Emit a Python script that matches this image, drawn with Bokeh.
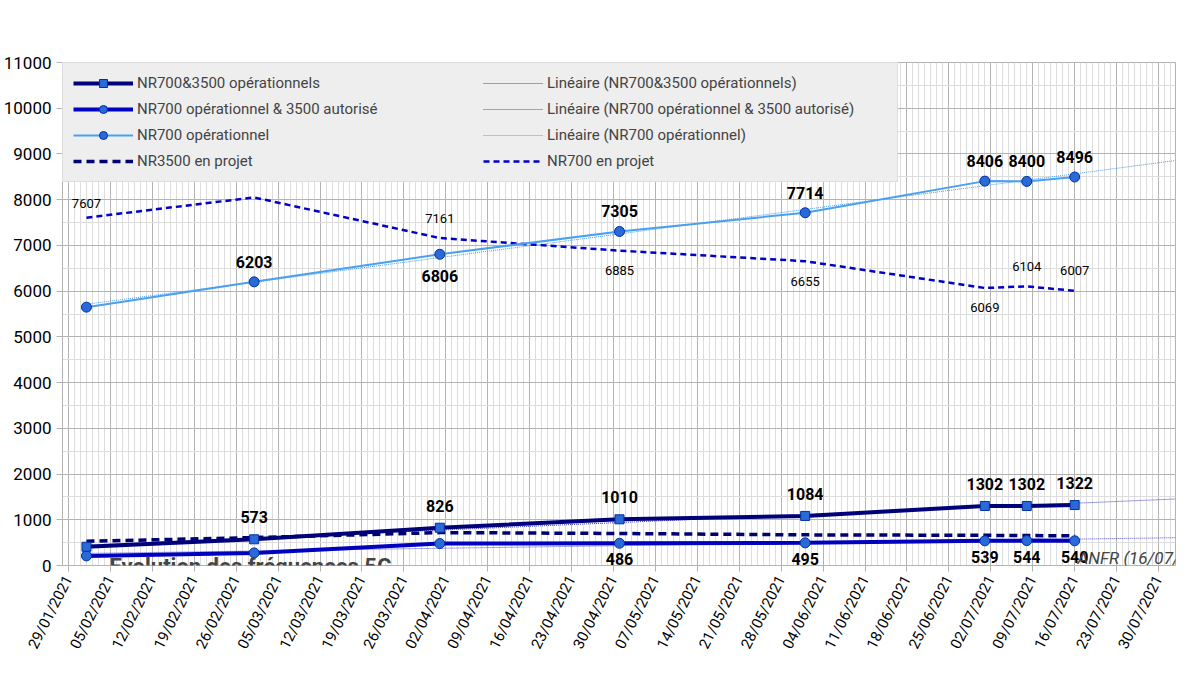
from datetime import datetime, timedelta
import numpy as np
from bokeh.plotting import figure
from bokeh.models import (FixedTicker, DatetimeTickFormatter, Legend, LegendItem, Label, ColumnDataSource, Range1d)
from bokeh.core.properties import value
from bokeh.embed import file_html
from bokeh.resources import INLINE

dates = ["01/02/2021", "01/03/2021", "01/04/2021", "01/05/2021", "01/06/2021", "01/07/2021", "08/07/2021", "16/07/2021"]
nr_both_op = [410, 573, 826, 1010, 1084, 1302, 1302, 1322]
nr700op_3500aut = [210, 275, 480, 486, 495, 539, 544, 540]
nr700_op = [5650, 6203, 6806, 7305, 7714, 8406, 8400, 8496]
nr3500_proj = [530, 610, 720, 700, 670, 660, 655, 650]
nr700_proj = [7607, 8049, 7161, 6885, 6655, 6069, 6104, 6007]
tick_dates = ["29/01/2021", "05/02/2021", "12/02/2021", "19/02/2021", "26/02/2021", "05/03/2021", "12/03/2021",
              "19/03/2021", "26/03/2021", "02/04/2021", "09/04/2021", "16/04/2021", "23/04/2021", "30/04/2021",
              "07/05/2021", "14/05/2021", "21/05/2021", "28/05/2021", "04/06/2021", "11/06/2021", "18/06/2021",
              "25/06/2021", "02/07/2021", "09/07/2021", "16/07/2021", "23/07/2021", "30/07/2021"]

def d(s):
    return datetime.strptime(s, "%d/%m/%Y")
def ms(dt):
    return (dt - datetime(1970, 1, 1)).total_seconds() * 1000

X = [d(s) for s in dates]
x0, x1 = d("28/01/2021"), d("01/08/2021") + timedelta(hours=20)

FONT = "Roboto"
p = figure(width=1180, height=658, x_axis_type="datetime", output_backend="svg", toolbar_location=None,
           x_range=Range1d(x0, x1), y_range=Range1d(0, 11000),
           min_border_left=10, min_border_right=5, min_border_top=62)
p.title.visible = False
p.outline_line_color = "#b3b3b3"
p.xaxis.ticker = FixedTicker(ticks=[ms(d(t)) for t in tick_dates],
                             minor_ticks=[ms(x0 + timedelta(days=i)) for i in range(0, 187)])
p.xaxis.formatter = DatetimeTickFormatter(days="%d/%m/%Y", months="%d/%m/%Y", hours="%d/%m/%Y")
p.xaxis.major_label_orientation = 1.1
p.yaxis.ticker = FixedTicker(ticks=list(range(0, 11001, 1000)), minor_ticks=list(range(0, 11001, 500)))
for ax in (p.xaxis[0], p.yaxis[0]):
    ax.major_label_text_font = FONT
    ax.major_label_text_font_size = "15px"
    ax.major_label_text_color = "#000000"
    ax.axis_line_color = "#b3b3b3"
    ax.major_tick_line_color = "#b3b3b3"
    ax.minor_tick_line_color = None
    ax.major_tick_in = 0
    ax.major_tick_out = 6
p.yaxis.major_label_text_font_size = "17px"
p.xgrid.grid_line_color = "#b3b3b3"
p.ygrid.grid_line_color = "#b3b3b3"
p.xgrid.minor_grid_line_color = "#dddddd"
p.ygrid.minor_grid_line_color = "#dddddd"

# trend lines
xn = np.array([(x - X[0]).days for x in X], dtype=float)
xe = np.array([0.0, (x1 - X[0]).total_seconds() / 86400])
trend_items = []
for ys, col, lbl in [(nr_both_op, "#4040c0", "Linéaire (NR700&3500 opérationnels)"),
                     (nr700op_3500aut, "#5050d0", "Linéaire (NR700 opérationnel & 3500 autorisé)"),
                     (nr700_op, "#4aa0f0", "Linéaire (NR700 opérationnel)")]:
    a, b = np.polyfit(xn, ys, 1)
    r = p.line([X[0], x1], list(a * xe + b), line_color=col, line_width=1, line_dash="1 1")
    trend_items.append(LegendItem(label=lbl, renderers=[r]))

r3500 = p.line(X, nr3500_proj, line_color="#000070", line_width=3.5, line_dash="8 5")
r700p = p.line(X, nr700_proj, line_color="#0000c8", line_width=2.5, line_dash="6 4")
l2 = p.line(X, nr700op_3500aut, line_color="#0000c0", line_width=4)
m2 = p.scatter(X, nr700op_3500aut, marker="circle", size=10, fill_color="#2a6ad8", line_color="#0030a0")
l1 = p.line(X, nr_both_op, line_color="#00007a", line_width=4)
m1 = p.scatter(X, nr_both_op, marker="square", size=9, fill_color="#2a6ad8", line_color="#0030a0")
l3 = p.line(X, nr700_op, line_color="#4aa0f0", line_width=2)
m3 = p.scatter(X, nr700_op, marker="circle", size=10, fill_color="#2a6ad8", line_color="#0030a0")

def labels(xs, ys, offs, bold=True, size="16px", align="center"):
    src = ColumnDataSource(dict(x=xs, y=ys, t=[str(v) for v in ys], o=offs))
    p.text("x", "y", text="t", y_offset="o", source=src, text_font=value(FONT),
           text_font_size=size, text_font_style="bold" if bold else "normal",
           text_align=align, text_baseline="middle", text_color="#000000")

labels(X[1:], nr_both_op[1:], [-22] * 7)
labels(X[3:], nr700op_3500aut[3:], [16] * 5)
labels(X[1:], nr700_op[1:], [-20, 22, -20, -20, -20, -20, -20])
labels(X[:1], nr700_proj[:1], [-14], bold=False, size="13px")
labels(X[1:], nr700_proj[1:], [-20, -20, 20, 20, 20, -20, -20], bold=False, size="13px")

legend = Legend(items=[
    LegendItem(label="NR700&3500 opérationnels", renderers=[l1, m1]),
    LegendItem(label="NR700 opérationnel & 3500 autorisé", renderers=[l2, m2]),
    LegendItem(label="NR700 opérationnel", renderers=[l3, m3]),
    LegendItem(label="NR3500 en projet", renderers=[r3500]),
] + trend_items + [LegendItem(label="NR700 en projet", renderers=[r700p])],
    location="top_left", nrows=4, orientation="vertical",
    background_fill_color="#eeeeee", background_fill_alpha=1, border_line_color="#cccccc",
    label_text_font=FONT, label_text_font_size="15px", glyph_width=60, spacing=6,
    label_width=340, padding=10, margin=0)
legend.label_standoff = 4
p.add_layout(legend)

p.add_layout(Label(x=47, y=12, x_units="screen", y_units="screen", text="Evolution des fréquences 5G",
                   text_font=FONT, text_font_size="22px", text_font_style="bold", text_baseline="top"))
p.add_layout(Label(x=1160, y=18, x_units="screen", y_units="screen", text="ANFR (16/07/2021)",
                   text_font=FONT, text_font_size="17px", text_font_style="italic", text_align="right",
                   text_baseline="top"))

open("out.html", "w").write(file_html(p, INLINE))
